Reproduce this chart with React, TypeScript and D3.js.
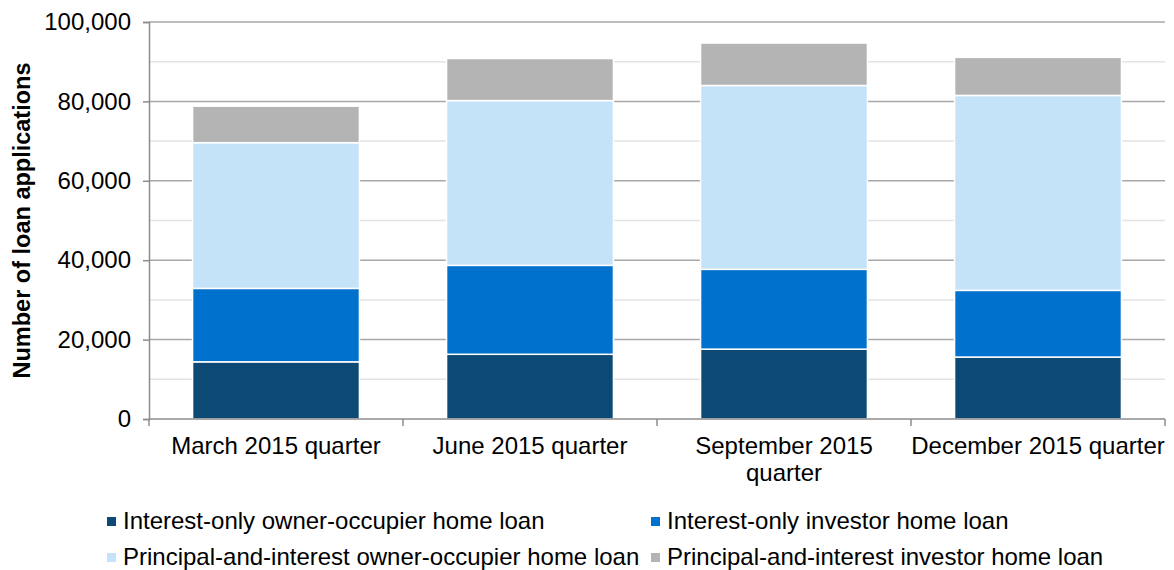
import React, { useEffect, useRef } from 'react';
import * as d3 from 'd3';

// Quarters on the x axis
const categories = ['March 2015 quarter', 'June 2015 quarter', 'September 2015 quarter', 'December 2015 quarter'];

// Series values (number of loan applications)
const ioOwnerOccupier = [14400, 16300, 17600, 15600];
const ioInvestor = [18500, 22400, 20100, 16800];
const piOwnerOccupier = [36700, 41500, 46300, 49100];
const piInvestor = [9200, 10600, 10700, 9600];

const seriesNames = [
    'Interest-only owner-occupier home loan',
    'Interest-only investor home loan',
    'Principal-and-interest owner-occupier home loan',
    'Principal-and-interest investor home loan'
];
const seriesValues = [ioOwnerOccupier, ioInvestor, piOwnerOccupier, piInvestor];
const seriesColors = ['#0C4A75', '#0071CD', '#C4E2F8', '#B4B4B4'];

const yTicks = [0, 20000, 40000, 60000, 80000, 100000];
const yMinorTicks = [10000, 30000, 50000, 70000, 90000];

const App = () => {
    const svgRef = useRef(null);

    useEffect(() => {
        const W = 1174, H = 570;
        const margin = { top: 22, right: 9, bottom: 151, left: 149 };
        const width = W - margin.left - margin.right;
        const height = H - margin.top - margin.bottom;
        const font = 'Liberation Sans, Arial, sans-serif';

        const root = d3.select(svgRef.current);
        root.selectAll('*').remove();
        const svg = root.append('g')
            .attr('transform', `translate(${margin.left},${margin.top})`);

        // stacked table built from the arrays
        const table = categories.map((c, i) => {
            const row = { category: c };
            seriesNames.forEach((s, j) => { row[s] = seriesValues[j][i]; });
            return row;
        });
        const stacked = d3.stack().keys(seriesNames)(table);

        const x = d3.scaleBand()
            .domain(categories)
            .range([0, width])
            .paddingInner(0.343)
            .paddingOuter(0.1715);

        const y = d3.scaleLinear()
            .domain([0, 100000])
            .range([height, 0]);

        const color = d3.scaleOrdinal()
            .domain(seriesNames)
            .range(seriesColors);

        // minor gridlines
        svg.append('g')
            .selectAll('line')
            .data(yMinorTicks)
            .enter()
            .append('line')
            .attr('x1', 0)
            .attr('x2', width)
            .attr('y1', d => y(d))
            .attr('y2', d => y(d))
            .attr('stroke', '#E3E3E3')
            .attr('stroke-width', 1.5);

        // major gridlines
        svg.append('g')
            .selectAll('line')
            .data(yTicks.filter(d => d > 0))
            .enter()
            .append('line')
            .attr('x1', 0)
            .attr('x2', width)
            .attr('y1', d => y(d))
            .attr('y2', d => y(d))
            .attr('stroke', '#A8A8A8')
            .attr('stroke-width', 1.5);

        // bars
        svg.append('g')
            .selectAll('g')
            .data(stacked)
            .enter()
            .append('g')
            .attr('fill', d => color(d.key))
            .selectAll('rect')
            .data(d => d)
            .enter()
            .append('rect')
            .attr('x', d => x(d.data.category))
            .attr('y', d => y(d[1]))
            .attr('width', x.bandwidth())
            .attr('height', d => y(d[0]) - y(d[1]))
            .attr('stroke', '#FFFFFF')
            .attr('stroke-width', 1.5);

        // Y axis
        const yAxis = svg.append('g')
            .call(d3.axisLeft(y).tickValues(yTicks).tickSize(6).tickPadding(12)
                .tickFormat(d3.format(',')));
        yAxis.select('.domain').attr('stroke', '#8C8C8C').attr('stroke-width', 1.5);
        yAxis.selectAll('.tick line').attr('stroke', '#8C8C8C').attr('stroke-width', 1.5);
        yAxis.selectAll('text')
            .style('font-family', font)
            .style('font-size', '24px')
            .attr('fill', '#000');

        // X axis: line + ticks between categories
        const step = x.step();
        const boundaries = d3.range(categories.length + 1).map(i => i * step);
        const xAxis = svg.append('g').attr('transform', `translate(0,${height})`);
        xAxis.append('line')
            .attr('x1', 0).attr('x2', width)
            .attr('stroke', '#8C8C8C').attr('stroke-width', 1.5);
        xAxis.selectAll('line.tick')
            .data(boundaries)
            .enter()
            .append('line')
            .attr('class', 'tick')
            .attr('x1', d => d).attr('x2', d => d)
            .attr('y1', 0).attr('y2', 7)
            .attr('stroke', '#8C8C8C').attr('stroke-width', 1.5);

        // category labels with wrapping
        const labels = xAxis.selectAll('text.cat')
            .data(categories)
            .enter()
            .append('text')
            .attr('class', 'cat')
            .attr('x', d => x(d) + x.bandwidth() / 2)
            .attr('y', 35)
            .attr('text-anchor', 'middle')
            .style('font-family', font)
            .style('font-size', '24px')
            .attr('fill', '#000');

        labels.each(function (d) {
            const text = d3.select(this);
            const words = d.split(' ');
            let line = [];
            let lineNo = 0;
            let tspan = text.append('tspan').attr('x', text.attr('x')).attr('dy', 0);
            words.forEach(w => {
                line.push(w);
                tspan.text(line.join(' '));
                if (tspan.node().getComputedTextLength() > step && line.length > 1) {
                    line.pop();
                    tspan.text(line.join(' '));
                    line = [w];
                    lineNo += 1;
                    tspan = text.append('tspan').attr('x', text.attr('x')).attr('dy', '1.12em').text(w);
                }
            });
        });

        // Y axis title
        root.append('text')
            .attr('transform', `translate(30,${margin.top + height / 2})rotate(-90)`)
            .attr('text-anchor', 'middle')
            .style('font-family', font)
            .style('font-size', '23.5px')
            .style('font-weight', 'bold')
            .text('Number of loan applications');

        // Legend
        const legendCols = [107, 651];
        const legendRows = [529, 565];
        const legend = root.append('g');
        const items = legend.selectAll('g')
            .data(seriesNames)
            .enter()
            .append('g')
            .attr('transform', (d, i) => `translate(${legendCols[i % 2]},${legendRows[Math.floor(i / 2)]})`);
        items.append('rect')
            .attr('x', 0)
            .attr('y', -12)
            .attr('width', 9)
            .attr('height', 9)
            .attr('fill', d => color(d));
        items.append('text')
            .attr('x', 16)
            .attr('y', 0)
            .style('font-family', font)
            .style('font-size', '24px')
            .attr('fill', '#000')
            .text(d => d);
    }, []);

    return (
        <div>
            <svg ref={svgRef} width={1174} height={570}
                style={{ position: 'absolute', left: 0, top: 0, background: '#fff' }}></svg>
        </div>
    );
};

export default App;
